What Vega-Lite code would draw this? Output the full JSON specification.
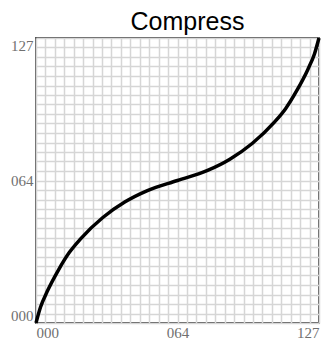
{
  "$schema": "https://vega.github.io/schema/vega-lite/v6.json",
  "autosize": "none",
  "width": 283,
  "height": 285,
  "padding": {"left": 36, "top": 38, "right": 2, "bottom": 19},
  "title": {"text": "Compress", "font": "Liberation Sans", "fontSize": 25, "fontWeight": "normal", "color": "#000", "anchor": "middle", "dx": 10, "offset": -4},
  "background": "#ffffff",
  "config": {"view": {"stroke": "#555", "strokeWidth": 2}},
  "data": {"values": [
    {"x": 0, "y": 0},
    {"x": 2, "y": 7},
    {"x": 5, "y": 14},
    {"x": 10, "y": 23.5},
    {"x": 15, "y": 31.5},
    {"x": 20, "y": 37.5},
    {"x": 30, "y": 47},
    {"x": 40, "y": 54},
    {"x": 50, "y": 59},
    {"x": 63.5, "y": 63.5},
    {"x": 77, "y": 68},
    {"x": 87, "y": 73},
    {"x": 97, "y": 80},
    {"x": 107, "y": 89.5},
    {"x": 112, "y": 95.5},
    {"x": 117, "y": 103.5},
    {"x": 122, "y": 113},
    {"x": 125, "y": 120},
    {"x": 127, "y": 127}
  ]},
  "mark": {"type": "line", "color": "#000", "strokeWidth": 3.5, "interpolate": "monotone"},
  "encoding": {
    "x": {"field": "x", "type": "quantitative", "scale": {"domain": [0, 127], "nice": false, "zero": false},
      "axis": {"title": null, "domain": false, "ticks": false, "grid": true, "gridColor": "#d6d6d6", "gridWidth": 1.5,
        "values": [0, 4.2333, 8.4667, 12.7, 16.9333, 21.1667, 25.4, 29.6333, 33.8667, 38.1, 42.3333, 46.5667, 50.8, 55.0333, 59.2667, 63.5, 67.7333, 71.9667, 76.2, 80.4333, 84.6667, 88.9, 93.1333, 97.3667, 101.6, 105.8333, 110.0667, 114.3, 118.5333, 122.7667, 127],
        "labelExpr": "datum.value == 0 ? '000' : datum.value == 63.5 ? '064' : datum.value == 127 ? '127' : ''",
        "labelOverlap": false, "labelBound": false, "labelFlush": true, "labelPadding": 2,
        "labelFont": "Liberation Serif", "labelFontSize": 15, "labelColor": "#707070"}},
    "y": {"field": "y", "type": "quantitative", "scale": {"domain": [0, 127], "nice": false, "zero": false},
      "axis": {"title": null, "domain": false, "ticks": false, "grid": true, "gridColor": "#d6d6d6", "gridWidth": 1.5,
        "values": [0, 4.2333, 8.4667, 12.7, 16.9333, 21.1667, 25.4, 29.6333, 33.8667, 38.1, 42.3333, 46.5667, 50.8, 55.0333, 59.2667, 63.5, 67.7333, 71.9667, 76.2, 80.4333, 84.6667, 88.9, 93.1333, 97.3667, 101.6, 105.8333, 110.0667, 114.3, 118.5333, 122.7667, 127],
        "labelExpr": "datum.value == 0 ? '000' : datum.value == 63.5 ? '064' : datum.value == 127 ? '127' : ''",
        "labelOverlap": false, "labelBound": false, "labelFlush": true, "labelPadding": 3,
        "labelFont": "Liberation Serif", "labelFontSize": 15, "labelColor": "#707070"}}
  }
}
